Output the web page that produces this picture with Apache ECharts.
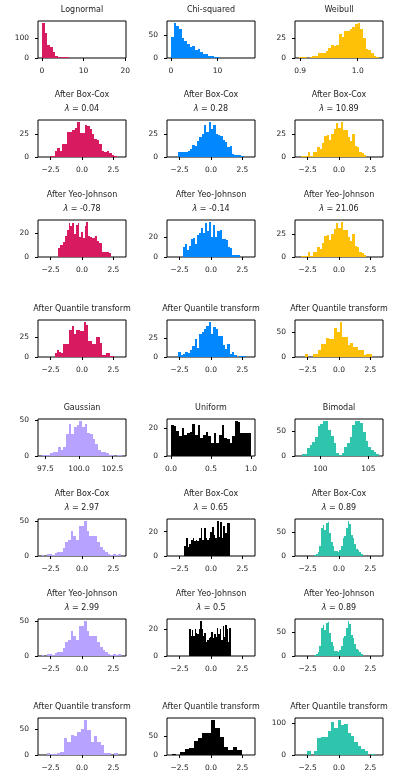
<!DOCTYPE html>
<html>
<head>
<meta charset="utf-8">
<title>Map data to a normal distribution</title>
<script src="https://cdn.jsdelivr.net/npm/echarts@6/dist/echarts.min.js"></script>
<style>
  html, body { margin: 0; padding: 0; background: #fff; }
  #main { width: 396px; height: 782px; }
</style>
</head>
<body>
<div id="main"></div>
<script>
// colours of the six distributions
var colors = ['#D81B60', '#0188FF', '#FFC107', '#B7A2FF', '#000000', '#2EC5AC'];

// titles
var namesTop = ['Lognormal', 'Chi-squared', 'Weibull'];
var namesBottom = ['Gaussian', 'Uniform', 'Bimodal'];
var lambdaBoxCoxTop = ['0.04', '0.28', '10.89'];
var lambdaYeoJohnsonTop = ['-0.78', '-0.14', '21.06'];
var lambdaBoxCoxBottom = ['2.97', '0.65', '0.89'];
var lambdaYeoJohnsonBottom = ['2.99', '0.5', '0.89'];

// tick values / labels
var xTicksLognormal = [0, 10, 20], xLabelsLognormal = ['0', '10', '20'];
var xTicksChi = [0, 10], xLabelsChi = ['0', '10'];
var xTicksWeibull = [0.9, 1.0], xLabelsWeibull = ['0.9', '1.0'];
var xTicksGaussian = [97.5, 100, 102.5], xLabelsGaussian = ['97.5', '100.0', '102.5'];
var xTicksUniform = [0, 0.5, 1], xLabelsUniform = ['0.0', '0.5', '1.0'];
var xTicksBimodal = [100, 105], xLabelsBimodal = ['100', '105'];
var xTicksStd = [-2.5, 0, 2.5], xLabelsStd = ['\u22122.5', '0.0', '2.5'];
var xLimStd = [-3.5, 3.5];
var yTicks = [
  [[0, 100], [0, 50], [0, 25]],
  [[0, 25], [0, 25], [0, 25]],
  [[0, 20], [0, 20], [0, 25]],
  [[0, 25], [0, 25], [0, 50]],
  [[0, 50], [0, 20], [0, 50]],
  [[0, 50], [0, 20], [0, 50]],
  [[0, 50], [0, 20], [0, 50]],
  [[0, 50], [0, 50], [0, 100]]
];

// histogram counts, with the range the bins cover
var lognormalRange = [0.05, 19.2];
var lognormalCounts = [179, 127, 67, 57, 33, 12, 7, 6, 5, 5, 2, 1, 1, 0, 0, 0, 0, 0, 0, 0, 0, 0, 0, 0, 0, 0, 0, 0, 0, 1];
var chiRange = [0, 17.2];
var chiCounts = [46, 78, 71, 64, 44, 38, 31, 24, 26, 18, 21, 13, 9, 8, 5, 4, 3, 3, 0, 0, 0, 0, 0, 0, 0, 0, 0, 0, 0, 1];
var weibullRange = [0.898, 1.037];
var weibullCounts = [1, 1, 1, 0, 1, 3, 3, 7, 7, 7, 9, 13, 16, 15, 16, 31, 27, 35, 34, 37, 40, 43, 45, 37, 25, 12, 10, 7, 3, 1];

var bcLognormalRange = [-2.56, 2.77];
var bcLognormalCounts = [1, 1, 6, 10, 7, 14, 14, 27, 27, 29, 31, 38, 26, 26, 35, 33, 30, 25, 19, 18, 14, 7, 5, 6, 4, 2, 1];
var bcChiRange = [-2.59, 2.59];
var bcChiCounts = [5, 5, 5, 5, 6, 9, 13, 12, 17, 22, 25, 34, 27, 38, 30, 34, 25, 24, 23, 18, 16, 11, 12, 3, 2, 2, 2, 1];
var bcWeibullRange = [-3.01, 2.16];
var bcWeibullCounts = [1, 1, 1, 5, 1, 5, 6, 11, 9, 16, 23, 24, 19, 25, 31, 38, 32, 39, 30, 30, 22, 18, 26, 12, 11, 5, 4, 2];

var yjLognormalRange = [-1.9, 2.32];
var yjLognormalCounts = [8, 10, 10, 13, 18, 23, 29, 26, 29, 20, 27, 29, 17, 21, 16, 26, 30, 18, 17, 16, 16, 18, 14, 12, 12, 4, 4, 4, 4, 3];
var yjChiRange = [-2.24, 2.3];
var yjChiCounts = [10, 13, 7, 11, 18, 19, 13, 22, 24, 29, 24, 34, 26, 35, 20, 32, 20, 26, 27, 18, 18, 17, 10, 9, 2, 2, 2, 2];
var yjWeibullRange = [-3.01, 2.16];
var yjWeibullCounts = [1, 1, 1, 5, 1, 5, 6, 11, 9, 16, 23, 24, 19, 25, 31, 38, 32, 39, 30, 30, 22, 18, 26, 12, 11, 5, 4, 2];

var qtLognormalRange = [-2.16, 2.51];
var qtLognormalCounts = [5, 9, 7, 5, 17, 17, 17, 35, 35, 40, 30, 35, 35, 33, 33, 45, 41, 21, 21, 17, 17, 25, 25, 18, 3, 3, 5, 5, 1, 1];
var qtChiRange = [-2.59, 2.77];
var qtChiCounts = [7, 2, 4, 6, 5, 9, 14, 23, 12, 30, 33, 37, 40, 46, 30, 39, 36, 28, 28, 16, 11, 17, 4, 7, 2, 0, 1, 1, 1];
var qtWeibullRange = [-2.69, 2.59];
var qtWeibullCounts = [6, 0, 0, 6, 6, 13, 25, 25, 38, 35, 35, 58, 50, 70, 40, 40, 23, 27, 20, 20, 13, 13, 3, 5, 5];

var gaussianRange = [97.25, 103.2];
var gaussianCounts = [1, 1, 1, 4, 5, 6, 12, 9, 12, 30, 44, 30, 40, 43, 49, 40, 45, 32, 30, 23, 17, 8, 6, 5, 4, 1, 1, 0, 1, 1];
var uniformRange = [0, 1];
var uniformCounts = [22, 21, 18, 14, 20, 15, 16, 17, 23, 15, 22, 13, 15, 17, 14, 9, 16, 9, 15, 22, 13, 12, 9, 14, 25, 24, 16, 16, 16, 16];
var bimodalRange = [97.78, 106.1];
var bimodalCounts = [1, 5, 5, 16, 23, 28, 38, 60, 64, 71, 70, 52, 40, 27, 7, 3, 7, 18, 26, 38, 62, 71, 70, 66, 48, 30, 19, 12, 9, 5];

var bcGaussianRange = [-3.22, 3.11];
var bcGaussianCounts = [1, 0, 3, 3, 2, 4, 5, 5, 11, 20, 22, 36, 28, 22, 42, 43, 50, 36, 28, 28, 29, 20, 13, 8, 5, 3, 2, 3, 2, 3];
var bcUniformRange = [-2.11, 1.5];
var bcUniformCounts = [8, 15, 7, 10, 13, 15, 12, 13, 12, 15, 23, 13, 23, 15, 13, 15, 20, 24, 17, 15, 29, 16, 28, 15, 25, 19, 27, 27];
var bcBimodalRange = [-1.95, 1.87];
var bcBimodalCounts = [2, 5, 8, 22, 60, 65, 55, 70, 73, 50, 30, 22, 10, 10, 8, 12, 22, 38, 42, 60, 75, 68, 45, 38, 25, 15, 12, 8, 5];

var yjGaussianRange = [-3.22, 3.11];
var yjGaussianCounts = [1, 0, 3, 3, 2, 4, 5, 5, 11, 20, 22, 36, 28, 22, 42, 43, 50, 36, 28, 28, 29, 20, 13, 8, 5, 3, 2, 3, 2, 3];
var yjUniformRange = [-1.74, 1.58];
var yjUniformCounts = [20, 15, 19, 15, 20, 17, 16, 20, 26, 20, 15, 17, 10, 12, 13, 14, 18, 13, 16, 14, 21, 16, 20, 12, 22, 14, 23, 20, 10, 21];
var yjBimodalRange = [-1.95, 1.87];
var yjBimodalCounts = [2, 5, 8, 22, 60, 65, 55, 70, 73, 50, 30, 22, 10, 10, 8, 12, 22, 38, 42, 60, 75, 68, 45, 38, 25, 15, 12, 8, 5];

var qtGaussianRange = [-5.199, 2.84];
var qtGaussianCounts = [1, 0, 0, 0, 0, 0, 0, 0, 0, 3, 1, 1, 3, 5, 34, 26, 40, 38, 46, 51, 69, 48, 26, 37, 26, 19, 4, 4, 0, 3];
var qtUniformRange = [-5.199, 5.199];
var qtUniformCounts = [1, 0, 0, 0, 0, 0, 2, 0, 8, 15, 17, 37, 45, 58, 58, 92, 70, 48, 20, 12, 20, 12, 0, 0, 0, 0, 0, 0, 0, 1];
var qtBimodalRange = [-5.199, 2.84];
var qtBimodalCounts = [1, 0, 0, 0, 0, 0, 0, 0, 0, 0, 12, 0, 12, 52, 55, 55, 74, 103, 84, 110, 95, 98, 70, 59, 42, 28, 20, 12, 0, 3];

// layout of the 8 x 3 axes (pixels)
var colLefts = [38, 167, 295];
var rowTops = [21, 120, 220, 320, 419, 519, 619, 718];
var plotW = 88, plotH = 37;
var FONT = 'DejaVu Sans';
var TXT = '#222';

var grids = [], xAxes = [], yAxes = [], series = [], texts = [];

// one rect per bin, drawn through the axes (snapped to whole pixels so no seams)
function renderBar(params, api) {
	var c = api.value(2);
	if (!c) {
		return;
	}
	var p0 = api.coord([api.value(0), c]);
	var p1 = api.coord([api.value(1), 0]);
	var x0 = Math.round(p0[0]), x1 = Math.round(p1[0]);
	var y0 = Math.round(p0[1]), y1 = Math.round(p1[1]);
	return {
		type: 'rect',
		shape: { x: x0, y: y0, width: x1 - x0, height: y1 - y0 },
		style: { fill: api.visual('color') }
	};
}

function addTitle(row, col, lines) {
	var cx = colLefts[col] + plotW / 2;
	var top = rowTops[row];
	for (var k = 0; k < lines.length; k++) {
		var y = top - 11.5 - (lines.length - 1 - k) * 13.5;
		texts.push({
			type: 'text',
			x: cx,
			y: y,
			style: {
				text: lines[k],
				fill: TXT,
				fontSize: 8,
				fontFamily: FONT,
				align: 'center',
				verticalAlign: 'middle',
				rich: { l: { fontStyle: 'italic', fontSize: 8, fontFamily: FONT, fill: TXT } }
			}
		});
	}
}

function addPanel(row, col, title, counts, range, xlim, xTicks, xLabels) {
	var i = grids.length;
	var w = (range[1] - range[0]) / counts.length;
	var data = counts.map(function (c, k) {
		return [range[0] + k * w, range[0] + (k + 1) * w, c];
	});
	if (!xlim) {
		// matplotlib default 5% margin
		var pad = 0.05 * (range[1] - range[0]);
		xlim = [range[0] - pad, range[1] + pad];
	}
	var ymax = Math.max.apply(null, counts) * 1.05;

	grids.push({
		left: colLefts[col], top: rowTops[row], width: plotW, height: plotH,
		show: true, borderColor: '#000', borderWidth: 1, backgroundColor: 'transparent',
		outerBoundsMode: 'none'
	});
	xAxes.push({
		type: 'value', gridIndex: i, min: xlim[0], max: xlim[1],
		axisLine: { show: false, onZero: false },
		splitLine: { show: false },
		axisTick: { show: true, length: 3, customValues: xTicks, lineStyle: { color: '#000', width: 1 } },
		axisLabel: {
			customValues: xTicks, margin: 9, fontSize: 7.5, fontFamily: FONT, color: TXT,
			formatter: function (v) {
				for (var k = 0; k < xTicks.length; k++) {
					if (Math.abs(xTicks[k] - v) < 1e-6) return xLabels[k];
				}
				return '';
			}
		}
	});
	yAxes.push({
		type: 'value', gridIndex: i, min: 0, max: ymax,
		axisLine: { show: false, onZero: false },
		splitLine: { show: false },
		axisTick: { show: true, length: 3, customValues: yTicks[row][col], lineStyle: { color: '#000', width: 1 } },
		axisLabel: { customValues: yTicks[row][col], margin: 9, fontSize: 7.5, fontFamily: FONT, color: TXT }
	});
	series.push({
		type: 'custom', xAxisIndex: i, yAxisIndex: i,
		clip: true, silent: true,
		itemStyle: { color: colors[row < 4 ? col : col + 3] },
		renderItem: renderBar,
		data: data
	});
	addTitle(row, col, title);
}

// first block: skewed distributions
addPanel(0, 0, [namesTop[0]], lognormalCounts, lognormalRange, null, xTicksLognormal, xLabelsLognormal);
addPanel(0, 1, [namesTop[1]], chiCounts, chiRange, null, xTicksChi, xLabelsChi);
addPanel(0, 2, [namesTop[2]], weibullCounts, weibullRange, null, xTicksWeibull, xLabelsWeibull);

var bcTop = [bcLognormalCounts, bcChiCounts, bcWeibullCounts];
var bcTopR = [bcLognormalRange, bcChiRange, bcWeibullRange];
var yjTop = [yjLognormalCounts, yjChiCounts, yjWeibullCounts];
var yjTopR = [yjLognormalRange, yjChiRange, yjWeibullRange];
var qtTop = [qtLognormalCounts, qtChiCounts, qtWeibullCounts];
var qtTopR = [qtLognormalRange, qtChiRange, qtWeibullRange];
for (var c = 0; c < 3; c++) {
	addPanel(1, c, ['After Box-Cox', '{l|\u03bb} = ' + lambdaBoxCoxTop[c]], bcTop[c], bcTopR[c], xLimStd, xTicksStd, xLabelsStd);
	addPanel(2, c, ['After Yeo-Johnson', '{l|\u03bb} = ' + lambdaYeoJohnsonTop[c]], yjTop[c], yjTopR[c], xLimStd, xTicksStd, xLabelsStd);
	addPanel(3, c, ['After Quantile transform'], qtTop[c], qtTopR[c], xLimStd, xTicksStd, xLabelsStd);
}

// second block
addPanel(4, 0, [namesBottom[0]], gaussianCounts, gaussianRange, null, xTicksGaussian, xLabelsGaussian);
addPanel(4, 1, [namesBottom[1]], uniformCounts, uniformRange, null, xTicksUniform, xLabelsUniform);
addPanel(4, 2, [namesBottom[2]], bimodalCounts, bimodalRange, null, xTicksBimodal, xLabelsBimodal);

var bcBot = [bcGaussianCounts, bcUniformCounts, bcBimodalCounts];
var bcBotR = [bcGaussianRange, bcUniformRange, bcBimodalRange];
var yjBot = [yjGaussianCounts, yjUniformCounts, yjBimodalCounts];
var yjBotR = [yjGaussianRange, yjUniformRange, yjBimodalRange];
var qtBot = [qtGaussianCounts, qtUniformCounts, qtBimodalCounts];
var qtBotR = [qtGaussianRange, qtUniformRange, qtBimodalRange];
for (var c2 = 0; c2 < 3; c2++) {
	addPanel(5, c2, ['After Box-Cox', '{l|\u03bb} = ' + lambdaBoxCoxBottom[c2]], bcBot[c2], bcBotR[c2], xLimStd, xTicksStd, xLabelsStd);
	addPanel(6, c2, ['After Yeo-Johnson', '{l|\u03bb} = ' + lambdaYeoJohnsonBottom[c2]], yjBot[c2], yjBotR[c2], xLimStd, xTicksStd, xLabelsStd);
	addPanel(7, c2, ['After Quantile transform'], qtBot[c2], qtBotR[c2], xLimStd, xTicksStd, xLabelsStd);
}

var chart = echarts.init(document.getElementById('main'));
chart.setOption({
	backgroundColor: '#fff',
	animation: false,
	grid: grids,
	xAxis: xAxes,
	yAxis: yAxes,
	series: series,
	graphic: { elements: texts }
});
</script>
</body>
</html>
